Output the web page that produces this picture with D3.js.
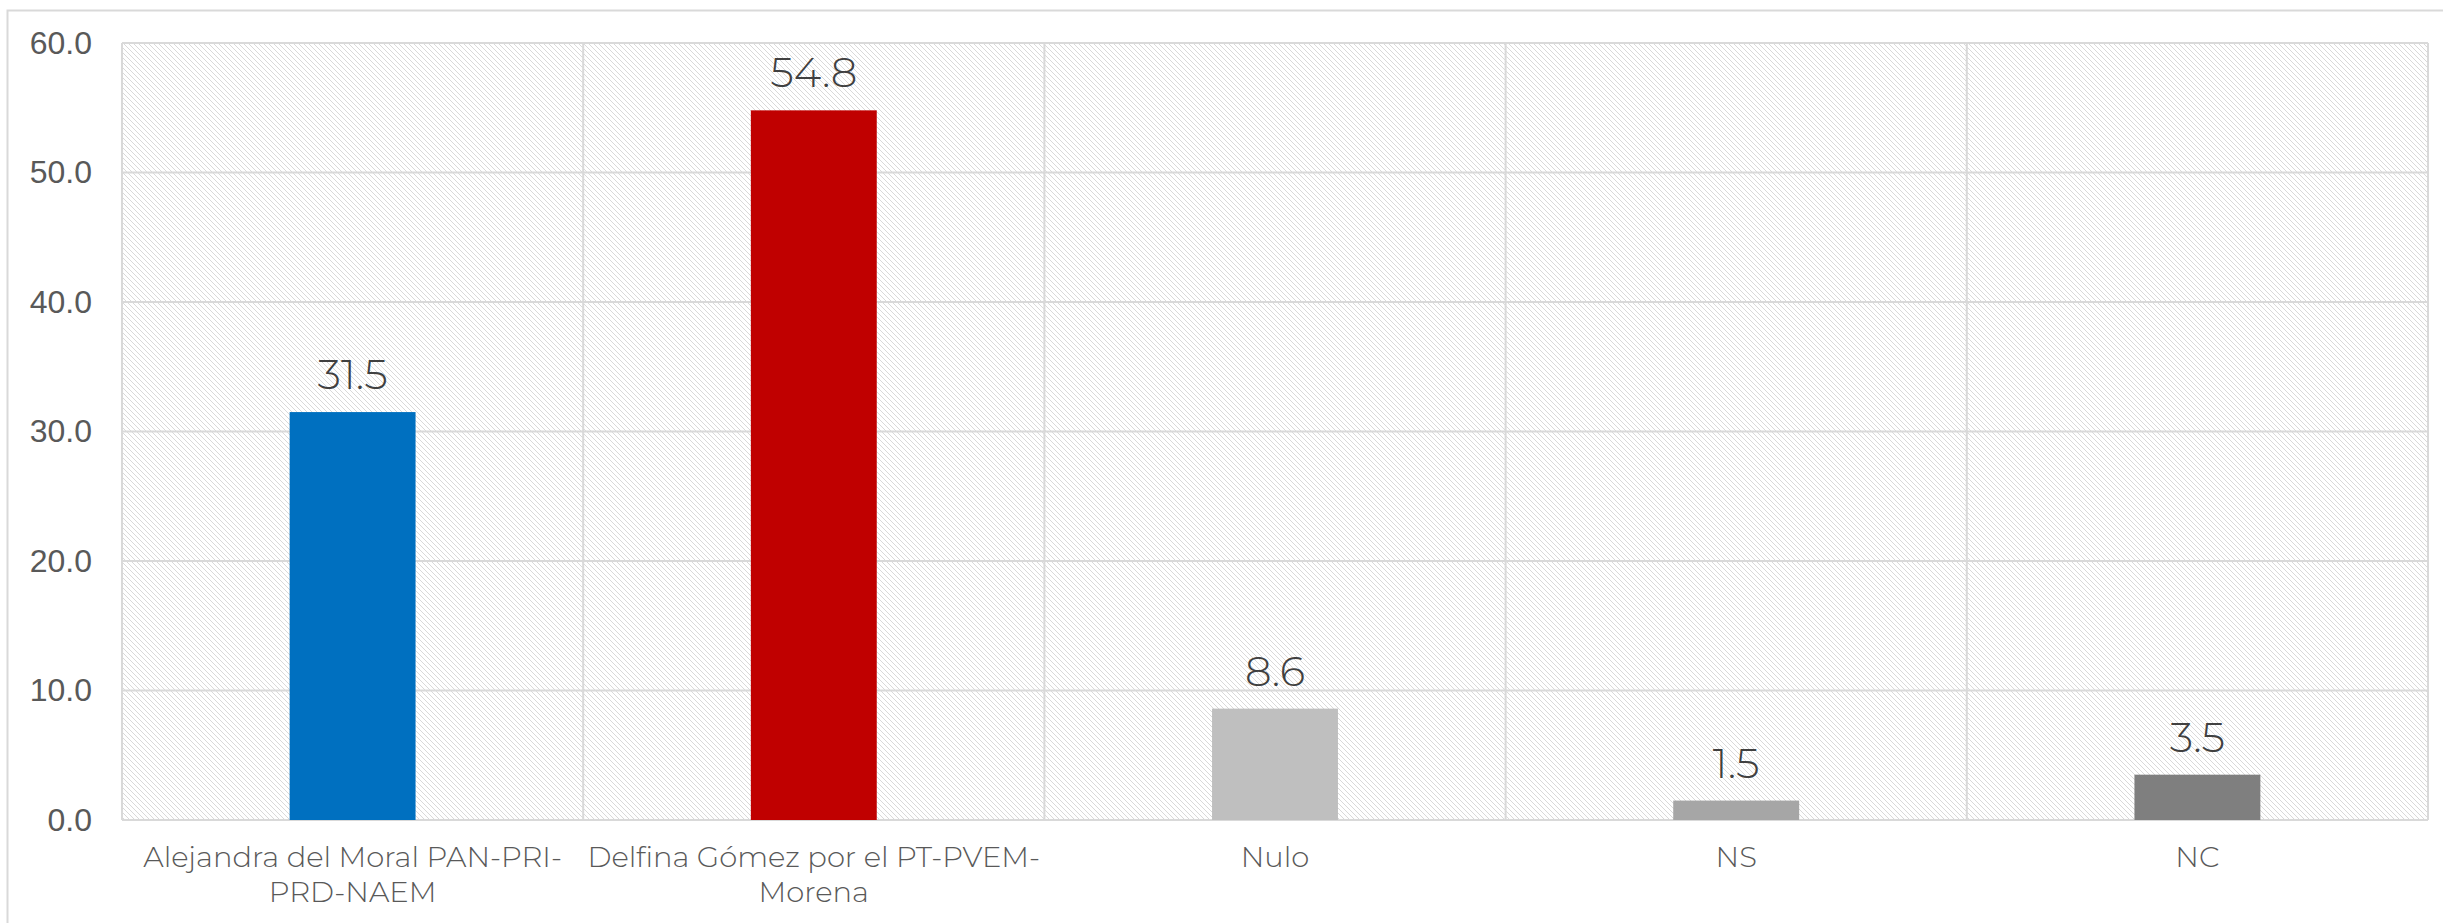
<!DOCTYPE html>
<html><head><meta charset="utf-8">
<script src="https://cdn.jsdelivr.net/npm/d3@7"></script>
<style>
html,body{margin:0;padding:0;background:#fff;}
svg{display:block;font-family:"Montserrat","Open Sans","Lato",sans-serif;}
</style></head>
<body><svg id="c" width="2443" height="923"></svg>
<script>
const categories = ["Alejandra del Moral PAN-PRI-PRD-NAEM","Delfina Gómez por el PT-PVEM-Morena","Nulo","NS","NC"];
const labelLines = [["Alejandra del Moral PAN-PRI-","PRD-NAEM"],["Delfina Gómez por el PT-PVEM-","Morena"],["Nulo"],["NS"],["NC"]];
const values = [31.5, 54.8, 8.6, 1.5, 3.5];
const barColors = ["#0070C0","#C00000","#BFBFBF","#A6A6A6","#7F7F7F"];
const yTicks = [0,10,20,30,40,50,60];

const svg = d3.select("#c");
const W = 2443, H = 923;
const m = {left:122, right:2428, top:43, bottom:820};

// outer chart border
svg.append("rect").attr("x",7.5).attr("y",10.5).attr("width",W+20).attr("height",H+20)
  .attr("fill","#fff").attr("stroke","#d9d9d9").attr("stroke-width",2);

const defs = svg.append("defs");
const pat = defs.append("pattern").attr("id","hatch").attr("patternUnits","userSpaceOnUse")
  .attr("width",5).attr("height",5);
pat.append("rect").attr("width",5).attr("height",5).attr("fill","#fff");
pat.append("path").attr("d","M-1,-1 L6,6 M-1,4 L1,6 M4,-1 L6,1").attr("stroke","#d9d9d9").attr("stroke-width",1);

const x = d3.scaleBand().domain(categories).range([m.left,m.right]).paddingInner(0).paddingOuter(0);
const xb = d3.scaleBand().domain(categories).range([m.left,m.right]).paddingInner(0.727).paddingOuter(0.3635);
const y = d3.scaleLinear().domain([0,60]).range([m.bottom,m.top]);

svg.append("rect").attr("x",m.left).attr("y",m.top).attr("width",m.right-m.left).attr("height",m.bottom-m.top)
  .attr("fill","url(#hatch)");

// horizontal grid
svg.append("g").selectAll("line").data(yTicks).join("line")
  .attr("x1",m.left).attr("x2",m.right).attr("y1",d=>y(d)).attr("y2",d=>y(d))
  .attr("stroke","#d9d9d9").attr("stroke-width",2);
// vertical grid at category boundaries
const bounds = categories.map(c=>x(c)).concat([m.right]);
svg.append("g").selectAll("line").data(bounds).join("line")
  .attr("x1",d=>d).attr("x2",d=>d).attr("y1",m.top).attr("y2",m.bottom)
  .attr("stroke","#d9d9d9").attr("stroke-width",2);

// bars
svg.append("g").selectAll("rect").data(values).join("rect")
  .attr("x",(d,i)=>xb(categories[i])).attr("width",xb.bandwidth())
  .attr("y",d=>y(d)).attr("height",d=>y(0)-y(d))
  .attr("fill",(d,i)=>barColors[i]);

// data labels
svg.append("g").selectAll("text").data(values).join("text")
  .attr("x",(d,i)=>xb(categories[i])+xb.bandwidth()/2).attr("y",d=>y(d)-23)
  .attr("text-anchor","middle").attr("font-size",42).attr("font-weight",300)
  .attr("fill","#404040").text(d=>d.toFixed(1));

// y axis
const yAxis = d3.axisLeft(y).tickValues(yTicks).tickFormat(d3.format(".1f")).tickSize(0).tickPadding(30);
const ga = svg.append("g").attr("transform",`translate(${m.left},0)`).call(yAxis);
ga.select(".domain").remove();
ga.selectAll("text").attr("font-size",32).attr("font-weight",300).attr("fill","#595959")
  .attr("font-family",null);

// x axis labels
const xl = svg.append("g").selectAll("text").data(categories).join("text")
  .attr("x",d=>x(d)+x.bandwidth()/2).attr("y",867)
  .attr("text-anchor","middle").attr("font-size",29).attr("font-weight",300).attr("fill","#595959");
xl.selectAll("tspan").data((d,i)=>labelLines[i]).join("tspan")
  .attr("x",function(){return this.parentNode.getAttribute("x");})
  .attr("dy",(d,j)=>j===0?0:35).text(d=>d);
</script></body></html>
